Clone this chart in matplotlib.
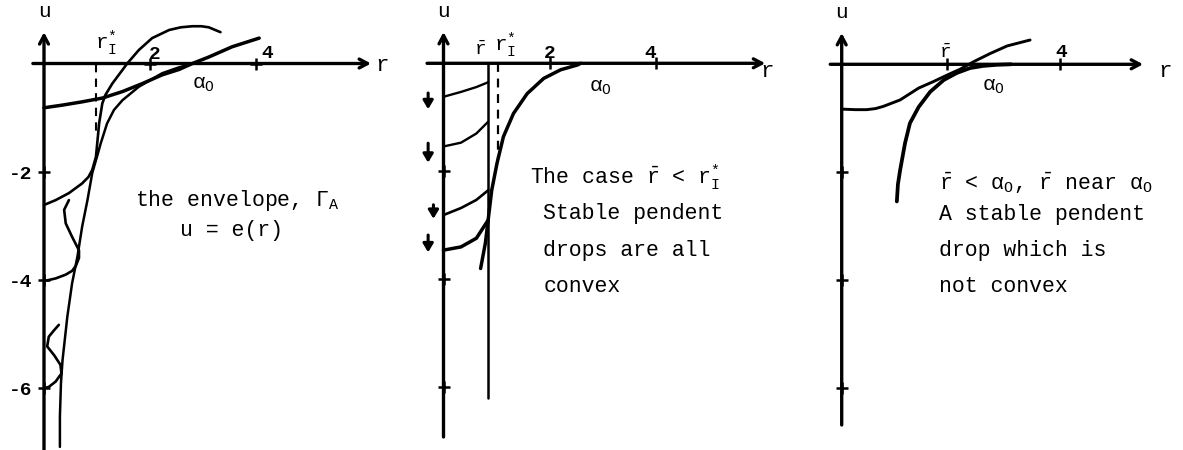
import matplotlib
matplotlib.use("Agg")
import matplotlib.pyplot as plt

plt.rcParams['font.family'] = ['Liberation Mono', 'DejaVu Sans Mono']
plt.rcParams['mathtext.fontset'] = 'custom'
plt.rcParams['mathtext.rm'] = 'Liberation Mono'
plt.rcParams['mathtext.it'] = 'Liberation Mono'
plt.rcParams['mathtext.bf'] = 'Liberation Mono:bold'

# ---- left panel: the envelope and drops crossing it ----
env1_r = [2.80, 2.52, 2.23, 1.79, 1.48, 1.32, 1.19, 1.07, 1.01, 0.91, 0.82, 0.72, 0.63, 0.53, 0.44, 0.35, 0.32, 0.30, 0.30]
env1_u = [0.0, -0.08, -0.18, -0.43, -0.68, -0.86, -1.11, -1.48, -1.69, -2.03, -2.53, -3.02, -3.58, -4.07, -4.69, -5.49, -5.92, -6.54, -7.10]

top1_r = [0, 0.35, 0.72, 1.10, 1.48, 1.86, 2.23, 2.55, 2.80, 3.11, 3.55, 4.06]
top1_u = [-0.82, -0.77, -0.71, -0.64, -0.52, -0.37, -0.21, -0.11, 0.0, 0.12, 0.31, 0.47]

arch1_r = [0, 0.22, 0.47, 0.72, 0.84, 0.91, 0.98, 1.01, 1.04, 1.10, 1.16, 1.29, 1.48, 1.57, 1.79, 2.04, 2.36, 2.58, 2.80, 2.97, 3.11, 3.33]
arch1_u = [-2.62, -2.53, -2.40, -2.22, -2.10, -1.97, -1.73, -1.42, -1.11, -0.74, -0.58, -0.37, -0.12, 0.0, 0.25, 0.47, 0.62, 0.67, 0.69, 0.69, 0.67, 0.58]

s4_r = [0, 0.22, 0.41, 0.53, 0.60, 0.66, 0.66, 0.53, 0.41, 0.38, 0.47]
s4_u = [-4.03, -3.98, -3.91, -3.84, -3.75, -3.60, -3.46, -3.21, -2.96, -2.71, -2.53]

s6_r = [0, 0.09, 0.22, 0.33, 0.31, 0.19, 0.06, 0.09, 0.19, 0.28]
s6_u = [-6.01, -5.99, -5.89, -5.74, -5.58, -5.40, -5.24, -5.06, -4.94, -4.84]

r_star1 = 0.98
r_star1_end = -1.26

# ---- middle panel: rbar < r*_I ----
env2_r = [2.59, 2.53, 2.21, 1.89, 1.58, 1.32, 1.13, 1.01, 0.91, 0.85, 0.79, 0.70]
env2_u = [0.0, -0.03, -0.12, -0.28, -0.56, -0.93, -1.36, -1.85, -2.35, -2.84, -3.33, -3.80]

drops2_r = [0, 0.33, 0.62, 0.845]
drops2_u = [
    [-0.62, -0.53, -0.44, -0.35],
    [-1.54, -1.47, -1.30, -1.08],
    [-2.81, -2.68, -2.53, -2.35],
    [-3.46, -3.40, -3.24, -2.90],
]
drops2_lw = [1.7, 1.7, 1.9, 2.5]

r_bar2 = 0.845
r_bar2_end = -6.2
r_star2 = 1.03
r_star2_end = -1.79

arrow2_r = [-0.29, -0.29, -0.19, -0.29]
arrow2_top = [-0.55, -1.48, -2.62, -3.18]
arrow2_bottom = [-0.85, -1.84, -2.88, -3.50]

# ---- right panel: rbar near alpha_0 ----
drop3_r = [0, 0.25, 0.46, 0.62, 0.76, 1.07, 1.41, 1.68, 1.93, 2.17, 2.42, 2.72, 3.03, 3.45]
drop3_u = [-0.83, -0.84, -0.84, -0.82, -0.78, -0.66, -0.44, -0.32, -0.20, -0.09, 0.05, 0.20, 0.34, 0.45]
env3_r = [1.01, 1.03, 1.07, 1.16, 1.25, 1.41, 1.62, 1.87, 2.11, 2.35, 2.59, 2.83, 3.10]
env3_u = [-2.54, -2.22, -1.96, -1.46, -1.09, -0.79, -0.51, -0.29, -0.16, -0.07, -0.03, -0.01, 0.0]
r_bar3 = 1.92

u_ticks = [-2, -4, -6]
u_tick_labels = ['-2', '-4', '-6']

W, H = 1183, 450
fig = plt.figure(figsize=(W / 100, H / 100), dpi=100)

LINE = dict(color='k', solid_capstyle='round', solid_joinstyle='round')


def panel(left, right, x0, y0, sx, sy):
    ax = fig.add_axes([left / W, 0, (right - left) / W, 1])
    ax.set_xlim((left - x0) / sx, (right - x0) / sx)
    ax.set_ylim((y0 - H) / sy, y0 / sy)
    ax.axis('off')
    return ax


def draw_axes(ax, r_lo, r_hi, u_top, u_bot, r_ticks, r_lbl):
    arrow = dict(arrowstyle='->,head_length=0.6,head_width=0.32', lw=2.4,
                 color='k', shrinkA=0, shrinkB=0)
    ax.annotate('', xy=(r_hi, 0), xytext=(r_lo, 0), arrowprops=arrow)
    ax.annotate('', xy=(0, u_top), xytext=(0, u_bot), arrowprops=arrow)
    ax.plot(r_ticks, [0] * len(r_ticks), '+', ms=8, mew=1.8, color='k')
    ax.plot([0] * len(u_ticks), u_ticks, '+', ms=8, mew=1.8, color='k')
    ax.text(0, u_top + 0.2, 'u', ha='center', va='bottom', fontsize=15)
    ax.text(*r_lbl, 'r', ha='left', va='center', fontsize=16)


# left
ax1 = panel(0, 395, 44, 63.5, 53, 54)
draw_axes(ax1, -0.21, 6.17, 0.58, -7.16, [2, 4], (6.25, -0.03))
ax1.plot(env1_r, env1_u, lw=1.8, **LINE)
ax1.plot(top1_r, top1_u, lw=2.5, **LINE)
ax1.plot(arch1_r, arch1_u, lw=1.9, **LINE)
ax1.plot(s4_r, s4_u, lw=1.9, **LINE)
ax1.plot(s6_r, s6_u, lw=1.9, **LINE)
ax1.plot([r_star1, r_star1], [0, r_star1_end], ls=(0, (4, 3)), lw=1.5, color='k')
for t, s in zip(u_ticks, u_tick_labels):
    ax1.text(-0.21, t - 0.06, s, ha='right', va='center', fontsize=14, fontweight='bold')
ax1.text(2.09, 0.16, '2', ha='center', va='center', fontsize=14, fontweight='bold')
ax1.text(4.21, 0.19, '4', ha='center', va='center', fontsize=14, fontweight='bold')
ax1.text(1.17, 0.38, r'r$^{*}_{I}$', ha='center', va='center', fontsize=15)
ax1.text(3.0, -0.38, r'$\alpha_{O}$', ha='center', va='center', fontsize=15)
ax1.text(1.72, -2.53, r'the envelope, $\Gamma_{A}$', ha='left', va='center', fontsize=15.5)
ax1.text(2.57, -3.10, 'u = e(r)', ha='left', va='center', fontsize=15.5)

# middle
ax2 = panel(395, 790, 443.5, 63.3, 53, 54)
draw_axes(ax2, -0.31, 6.07, 0.58, -6.92, [2, 4], (5.97, -0.16))
ax2.plot(env2_r, env2_u, lw=2.5, **LINE)
for us, lw in zip(drops2_u, drops2_lw):
    ax2.plot(drops2_r, us, lw=lw, **LINE)
ax2.plot([r_bar2, r_bar2], [0, r_bar2_end], lw=1.8, **LINE)
ax2.plot([r_star2, r_star2], [0, r_star2_end], ls=(0, (4, 3)), lw=1.6, color='k')
for r, a, b in zip(arrow2_r, arrow2_top, arrow2_bottom):
    ax2.annotate('', xy=(r, b), xytext=(r, a),
                 arrowprops=dict(arrowstyle='-|>,head_length=0.5,head_width=0.3',
                                 lw=2.2, color='k', shrinkA=0, shrinkB=0))
ax2.text(2.01, 0.19, '2', ha='center', va='center', fontsize=14, fontweight='bold')
ax2.text(3.9, 0.19, '4', ha='center', va='center', fontsize=14, fontweight='bold')
ax2.text(0.69, 0.25, r'$\bar{r}$', ha='center', va='center', fontsize=14)
ax2.text(1.16, 0.34, r'r$^{*}_{I}$', ha='center', va='center', fontsize=15)
ax2.text(2.95, -0.44, r'$\alpha_{O}$', ha='center', va='center', fontsize=15)
ax2.text(1.63, -2.10, r'The case $\bar{r}$ < r$^{*}_{I}$', ha='left', va='center', fontsize=15.5)
ax2.text(1.88, -2.78, 'Stable pendent', ha='left', va='center', fontsize=15.5)
ax2.text(1.88, -3.46, 'drops are all', ha='left', va='center', fontsize=15.5)
ax2.text(1.88, -4.13, 'convex', ha='left', va='center', fontsize=15.5)

# right
ax3 = panel(790, 1183, 841.7, 64.3, 54.6, 54)
draw_axes(ax3, -0.21, 5.52, 0.58, -6.68, [r_bar3, 4], (5.8, -0.14))
ax3.plot(env3_r, env3_u, lw=2.7, **LINE)
ax3.plot(drop3_r, drop3_u, lw=2.1, **LINE)
ax3.text(4.03, 0.21, '4', ha='center', va='center', fontsize=14, fontweight='bold')
ax3.text(r_bar3 - 0.03, 0.21, r'$\bar{r}$', ha='center', va='center', fontsize=14)
ax3.text(2.77, -0.42, r'$\alpha_{O}$', ha='center', va='center', fontsize=15)
ax3.text(1.78, -2.20, r'$\bar{r}$ < $\alpha_{O}$, $\bar{r}$ near $\alpha_{O}$', ha='left', va='center', fontsize=15.5)
ax3.text(1.78, -2.79, 'A stable pendent', ha='left', va='center', fontsize=15.5)
ax3.text(1.78, -3.44, 'drop which is', ha='left', va='center', fontsize=15.5)
ax3.text(1.78, -4.12, 'not convex', ha='left', va='center', fontsize=15.5)

fig.savefig('out.png', dpi=100, facecolor='white')
